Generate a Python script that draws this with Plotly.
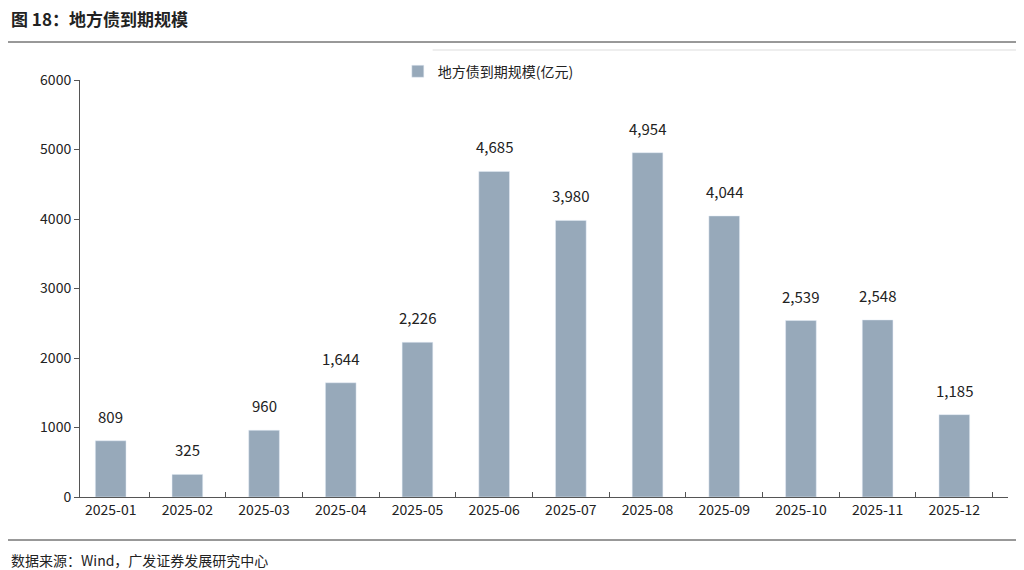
import plotly.graph_objects as go

months = ['2025-01', '2025-02', '2025-03', '2025-04', '2025-05', '2025-06',
          '2025-07', '2025-08', '2025-09', '2025-10', '2025-11', '2025-12']
values = [809, 325, 960, 1644, 2226, 4685, 3980, 4954, 4044, 2539, 2548, 1185]

H = 417  # plot area height in px

fig = go.Figure()
fig.add_trace(go.Bar(
    x=months, y=values, name='地方债到期规模(亿元)',
    marker=dict(color='#97A9BA'), width=0.4
))

labels = [dict(x=m, y=v, text=f'{v:,}', xref='x', yref='y', showarrow=False,
               yanchor='bottom', yshift=12, font=dict(size=15, color='#222'))
          for m, v in zip(months, values)]

fig.update_layout(
    width=1024, height=570,
    margin=dict(l=72, r=24, t=72, b=81),
    plot_bgcolor='white', paper_bgcolor='white',
    font=dict(family='Noto Sans CJK SC', size=14, color='#222'),
    showlegend=True,
    legend=dict(orientation='h', x=0.44, xanchor='center', y=1.02, yanchor='middle',
                font=dict(size=14)),
    xaxis=dict(type='category', range=[-0.4, 11.7], showline=True, linecolor='#555',
               ticks='inside', tickson='boundaries', ticklen=5, tickcolor='#555',
               tickfont=dict(size=14)),
    yaxis=dict(range=[0, 6000], dtick=1000, showgrid=False, showline=True,
               linecolor='#555', ticks='outside', tickcolor='#555', ticklen=5,
               tickfont=dict(size=14)),
    shapes=[
        dict(type='line', xref='paper', yref='paper', x0=-0.08, x1=1.03,
             y0=1 + 38 / H, y1=1 + 38 / H, line=dict(color='#333', width=1)),
        dict(type='line', xref='paper', yref='paper', x0=0.38, x1=1.03,
             y0=1 + 30 / H, y1=1 + 30 / H, line=dict(color='#ddd', width=1)),
        dict(type='line', xref='paper', yref='paper', x0=-0.08, x1=1.03,
             y0=-43 / H, y1=-43 / H, line=dict(color='#333', width=1)),
    ],
    annotations=labels + [
        dict(text='<b>图 18：地方债到期规模</b>', xref='paper', yref='paper',
             x=-0.077, y=1 + 62 / H, xanchor='left', yanchor='middle',
             showarrow=False, font=dict(size=17, color='#222')),
        dict(text='数据来源：Wind，广发证券发展研究中心', xref='paper', yref='paper',
             x=-0.077, y=-63 / H, xanchor='left', yanchor='middle',
             showarrow=False, font=dict(size=14, color='#222')),
    ]
)

fig.write_html('out.html')
